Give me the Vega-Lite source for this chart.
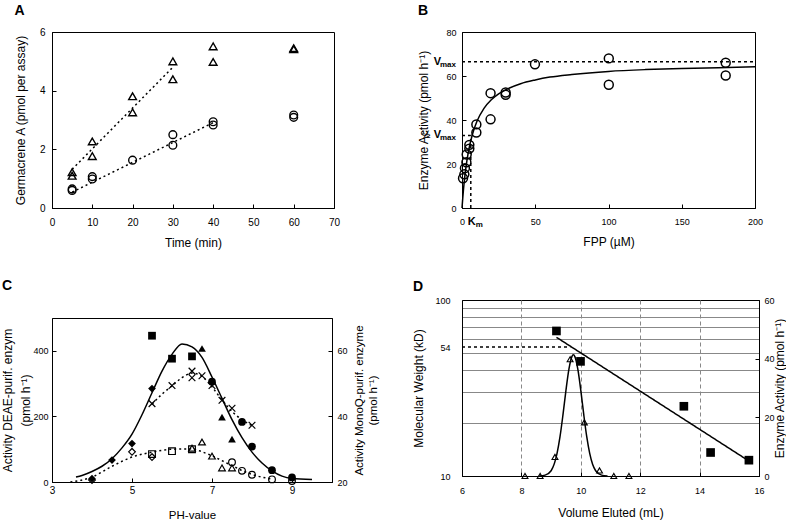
{
  "$schema": "https://vega.github.io/schema/vega-lite/v6.json",
  "padding": {"left": 1, "top": 3, "right": 0, "bottom": 0},
  "background": "white",
  "config": {
    "font": "Liberation Sans",
    "view": {"stroke": "#000", "strokeWidth": 1},
    "axis": {"labelFont": "Liberation Sans", "titleFont": "Liberation Sans", "labelFontSize": 9, "titleFontSize": 12, "titleFontWeight": "normal", "labelColor": "#000", "titleColor": "#000", "domainColor": "#000", "tickColor": "#000", "tickSize": -4, "labelPadding": 8, "grid": false, "labelFlush": false, "labelOverlap": false, "labelBound": false},
    "title": {"anchor": "start", "frame": "bounds", "fontSize": 14, "fontWeight": "bold", "font": "Liberation Sans", "color": "#000"}
  },
  "datasets": {
    "A_pts": [
      {"t": 5, "g": 1.22, "s": "tri"}, {"t": 5, "g": 1.1, "s": "tri"},
      {"t": 10, "g": 2.27, "s": "tri"}, {"t": 10, "g": 1.77, "s": "tri"},
      {"t": 20, "g": 3.81, "s": "tri"}, {"t": 20, "g": 3.26, "s": "tri"},
      {"t": 30, "g": 5.0, "s": "tri"}, {"t": 30, "g": 4.39, "s": "tri"},
      {"t": 40, "g": 5.51, "s": "tri"}, {"t": 40, "g": 4.98, "s": "tri"},
      {"t": 60, "g": 5.45, "s": "tri"}, {"t": 60, "g": 5.41, "s": "tri"},
      {"t": 5, "g": 0.65, "s": "cir"}, {"t": 5, "g": 0.6, "s": "cir"},
      {"t": 10, "g": 1.07, "s": "cir"}, {"t": 10, "g": 0.99, "s": "cir"},
      {"t": 20, "g": 1.63, "s": "cir"},
      {"t": 30, "g": 2.5, "s": "cir"}, {"t": 30, "g": 2.14, "s": "cir"},
      {"t": 40, "g": 2.94, "s": "cir"}, {"t": 40, "g": 2.83, "s": "cir"},
      {"t": 60, "g": 3.17, "s": "cir"}, {"t": 60, "g": 3.09, "s": "cir"}
    ],
    "A_fit": [
      {"t": 5, "g": 1.32, "s": "tri"}, {"t": 30, "g": 4.8, "s": "tri"},
      {"t": 5, "g": 0.54, "s": "cir"}, {"t": 40, "g": 2.91, "s": "cir"}
    ],
    "B_pts": [
      {"f": 0.7, "v": 13.5}, {"f": 1.6, "v": 15.3}, {"f": 2, "v": 18.1}, {"f": 3, "v": 20.8}, {"f": 3.2, "v": 24.3},
      {"f": 5, "v": 28.7}, {"f": 5, "v": 27}, {"f": 9.8, "v": 38}, {"f": 9.8, "v": 34.3},
      {"f": 19.5, "v": 52.2}, {"f": 19.5, "v": 40.3}, {"f": 29.8, "v": 52.5}, {"f": 29.8, "v": 51.5},
      {"f": 49.8, "v": 65.3}, {"f": 100.2, "v": 68}, {"f": 100.2, "v": 56}, {"f": 180, "v": 66}, {"f": 180, "v": 60.2}
    ],
    "B_curve": [
      {"f": 0, "v": 0}, {"f": 0.5, "v": 4.4}, {"f": 1, "v": 8.3}, {"f": 2, "v": 14.8}, {"f": 3, "v": 19.9}, {"f": 4, "v": 24.1},
      {"f": 5, "v": 27.7}, {"f": 7, "v": 33.2}, {"f": 10, "v": 39.1}, {"f": 15, "v": 45.3}, {"f": 20, "v": 49.2}, {"f": 25, "v": 51.9},
      {"f": 30, "v": 53.8}, {"f": 40, "v": 56.5}, {"f": 50, "v": 58.2}, {"f": 60, "v": 59.5}, {"f": 75, "v": 60.7}, {"f": 100, "v": 62.1},
      {"f": 125, "v": 62.9}, {"f": 150, "v": 63.4}, {"f": 175, "v": 63.8}, {"f": 200, "v": 64.2}
    ],
    "B_dash": [
      {"seg": "vmax", "f": 0, "v": 66.5}, {"seg": "vmax", "f": 200, "v": 66.5},
      {"seg": "km", "f": 6, "v": 0}, {"seg": "km", "f": 6, "v": 33},
      {"seg": "half", "f": 0, "v": 33}, {"seg": "half", "f": 6, "v": 33}
    ],
    "B_V": [{"f": 0, "v": 66.5, "t": "V"}, {"f": 0, "v": 33, "t": "½ V"}],
    "B_max": [{"f": 0, "v": 66.5, "t": "max"}, {"f": 0, "v": 33, "t": "max"}],
    "B_K": [{"f": 6, "v": 0, "t": "K"}],
    "B_m": [{"f": 6, "v": 0, "t": "m"}],
    "C_solid": [
      {"ph": 3.6, "a": 15}, {"ph": 3.75, "a": 20}, {"ph": 4, "a": 32}, {"ph": 4.25, "a": 48}, {"ph": 4.5, "a": 71},
      {"ph": 4.75, "a": 104}, {"ph": 5, "a": 146}, {"ph": 5.25, "a": 205}, {"ph": 5.5, "a": 272}, {"ph": 5.75, "a": 338},
      {"ph": 6, "a": 389}, {"ph": 6.25, "a": 421}, {"ph": 6.5, "a": 412}, {"ph": 6.75, "a": 380}, {"ph": 7, "a": 320},
      {"ph": 7.25, "a": 255}, {"ph": 7.5, "a": 190}, {"ph": 7.75, "a": 135}, {"ph": 8, "a": 91}, {"ph": 8.25, "a": 58},
      {"ph": 8.5, "a": 34}, {"ph": 8.75, "a": 18}, {"ph": 9, "a": 11}, {"ph": 9.5, "a": 8}
    ],
    "C_fill": [
      {"ph": 5.5, "a": 446, "s": "sq"}, {"ph": 6, "a": 376, "s": "sq"}, {"ph": 6.5, "a": 383, "s": "sq"},
      {"ph": 6.75, "a": 407, "s": "tri"}, {"ph": 7.25, "a": 198, "s": "tri"}, {"ph": 7.5, "a": 131, "s": "tri"},
      {"ph": 7, "a": 306, "s": "cir"}, {"ph": 7.75, "a": 183, "s": "cir"}, {"ph": 8, "a": 108, "s": "cir"}, {"ph": 8.5, "a": 36, "s": "cir"}, {"ph": 9, "a": 14, "s": "cir"},
      {"ph": 4, "a": 10, "s": "dia"}, {"ph": 4.5, "a": 67, "s": "dia"}, {"ph": 5, "a": 117, "s": "dia"}, {"ph": 5.5, "a": 285, "s": "dia"}
    ],
    "C_dot": [
      {"c": "up", "ph": 5.5, "a": 43.7}, {"c": "up", "ph": 5.75, "a": 46.8}, {"c": "up", "ph": 6, "a": 49.3}, {"c": "up", "ph": 6.25, "a": 51.8},
      {"c": "up", "ph": 6.5, "a": 53.2}, {"c": "up", "ph": 6.75, "a": 52.2}, {"c": "up", "ph": 7, "a": 49}, {"c": "up", "ph": 7.25, "a": 45},
      {"c": "up", "ph": 7.5, "a": 41.5}, {"c": "up", "ph": 7.75, "a": 39}, {"c": "up", "ph": 8, "a": 37.2},
      {"c": "lo", "ph": 3.46, "a": 20}, {"c": "lo", "ph": 4, "a": 21.5}, {"c": "lo", "ph": 4.5, "a": 24.8}, {"c": "lo", "ph": 5, "a": 27.6},
      {"c": "lo", "ph": 5.5, "a": 29.1}, {"c": "lo", "ph": 6, "a": 30}, {"c": "lo", "ph": 6.5, "a": 30.1}, {"c": "lo", "ph": 6.75, "a": 29.2},
      {"c": "lo", "ph": 7, "a": 28}, {"c": "lo", "ph": 7.25, "a": 26.5}, {"c": "lo", "ph": 7.5, "a": 25}, {"c": "lo", "ph": 7.75, "a": 23.5},
      {"c": "lo", "ph": 8, "a": 22.3}, {"c": "lo", "ph": 8.5, "a": 20.9}
    ],
    "C_open": [
      {"ph": 5.5, "a": 43.9, "s": "x"}, {"ph": 6, "a": 49.4, "s": "x"}, {"ph": 6.5, "a": 53.8, "s": "x"}, {"ph": 6.5, "a": 51.8, "s": "x"},
      {"ph": 6.75, "a": 52.4, "s": "x"}, {"ph": 7, "a": 49.4, "s": "x"}, {"ph": 7.25, "a": 44.9, "s": "x"}, {"ph": 7.5, "a": 42.5, "s": "x"}, {"ph": 8, "a": 37.3, "s": "x"},
      {"ph": 4, "a": 20.6, "s": "dia"}, {"ph": 5, "a": 29.2, "s": "dia"}, {"ph": 5.5, "a": 27.6, "s": "dia"},
      {"ph": 5.5, "a": 28.5, "s": "sq"}, {"ph": 6, "a": 29.4, "s": "sq"}, {"ph": 6.5, "a": 30.0, "s": "sq"},
      {"ph": 6.5, "a": 30.3, "s": "tri"}, {"ph": 6.75, "a": 32.2, "s": "tri"}, {"ph": 7, "a": 27.9, "s": "tri"}, {"ph": 7.25, "a": 24.3, "s": "tri"}, {"ph": 7.5, "a": 24.3, "s": "tri"},
      {"ph": 7.5, "a": 26, "s": "cir"}, {"ph": 7.75, "a": 23.4, "s": "cir"}, {"ph": 8, "a": 22.2, "s": "cir"}, {"ph": 8.5, "a": 20.8, "s": "cir"}, {"ph": 9, "a": 20.3, "s": "cir"}
    ],
    "D_sq": [
      {"vol": 9.18, "mw": 66.7}, {"vol": 9.99, "mw": 44.8}, {"vol": 13.47, "mw": 24.9}, {"vol": 14.37, "mw": 13.6}, {"vol": 15.66, "mw": 12.3}
    ],
    "D_lines": [
      {"l": "fit", "vol": 9.18, "mw": 61.4}, {"l": "fit", "vol": 15.66, "mw": 12.17},
      {"l": "mw54", "vol": 6, "mw": 54}, {"l": "mw54", "vol": 9.65, "mw": 54}
    ],
    "D_tri": [
      {"vol": 8.12, "act": 0}, {"vol": 8.63, "act": 0}, {"vol": 9.13, "act": 6.5}, {"vol": 9.64, "act": 39.8},
      {"vol": 10.12, "act": 18.3}, {"vol": 10.63, "act": 1.9}, {"vol": 11.11, "act": 0}, {"vol": 11.62, "act": 0}
    ],
    "D_curve": [
      {"vol": 8.6, "act": 0}, {"vol": 8.8, "act": 0.3}, {"vol": 9.0, "act": 1.8}, {"vol": 9.2, "act": 7.7}, {"vol": 9.3, "act": 13.4},
      {"vol": 9.4, "act": 20.9}, {"vol": 9.5, "act": 29.2}, {"vol": 9.6, "act": 36.4}, {"vol": 9.7, "act": 40.7}, {"vol": 9.75, "act": 41.3},
      {"vol": 9.8, "act": 40.7}, {"vol": 9.9, "act": 36.4}, {"vol": 10.0, "act": 29.2}, {"vol": 10.1, "act": 20.9}, {"vol": 10.2, "act": 13.4},
      {"vol": 10.3, "act": 7.7}, {"vol": 10.4, "act": 3.9}, {"vol": 10.5, "act": 1.8}, {"vol": 10.7, "act": 0.3}, {"vol": 10.9, "act": 0}
    ]
  },
  "spacing": 32,
  "hconcat": [
    {
      "spacing": 29,
      "vconcat": [
        {
          "width": 282, "height": 176,
          "title": {"text": "A", "offset": 9},
          "layer": [
            {
              "data": {"name": "A_fit"},
              "mark": {"type": "line", "strokeDash": [2, 3], "strokeWidth": 1.5, "color": "#000"},
              "encoding": {
                "x": {"field": "t", "type": "quantitative", "scale": {"domain": [0, 70], "nice": false}, "axis": {"title": "Time (min)", "values": [0, 10, 20, 30, 40, 50, 60, 70], "labelFontSize": 10, "labelPadding": 13, "titlePadding": 10}},
                "y": {"field": "g", "type": "quantitative", "scale": {"domain": [0, 6], "nice": false}, "axis": {"title": "Germacrene A (pmol per assay)", "values": [0, 1, 2, 3, 4, 5, 6], "labelExpr": "datum.value % 2 == 0 ? datum.label : ''", "labelFontSize": 10, "labelPadding": 11, "titlePadding": 12}},
                "detail": {"field": "s"}
              }
            },
            {
              "data": {"name": "A_pts"},
              "mark": {"type": "point", "filled": false, "color": "#000", "strokeWidth": 1.4, "size": 60, "opacity": 1},
              "encoding": {
                "x": {"field": "t", "type": "quantitative"},
                "y": {"field": "g", "type": "quantitative"},
                "shape": {"field": "s", "type": "nominal", "scale": {"domain": ["tri", "cir", "sq", "dia", "x"], "range": ["triangle-up", "circle", "square", "diamond", "M-1,-1L1,1M1,-1L-1,1"]}, "legend": null}
              }
            }
          ]
        },
        {
          "width": 280, "height": 164,
          "title": {"text": "C", "offset": 25},
          "layer": [
            {
              "layer": [
                {
                  "data": {"name": "C_solid"},
                  "mark": {"type": "line", "color": "#000", "strokeWidth": 1.5, "interpolate": "monotone"},
                  "encoding": {
                    "x": {"field": "ph", "type": "quantitative", "scale": {"domain": [3, 10], "nice": false}, "axis": {"title": "PH-value", "titleFontSize": 11.5, "values": [3, 4, 5, 6, 7, 8, 9, 10], "labelFontSize": 10, "labelOverlap": false, "labelFlush": false, "labelPadding": 7, "titlePadding": 14}},
                    "y": {"field": "a", "type": "quantitative", "scale": {"domain": [0, 500], "nice": false}, "axis": {"title": ["Activity DEAE-purif. enzym", "(pmol h⁻¹)"], "titleLineHeight": 18, "values": [0, 100, 200, 300, 400, 500], "labelExpr": "datum.value % 200 == 0 ? datum.label : ''", "labelPadding": 8, "titlePadding": 0}}
                  }
                },
                {
                  "data": {"name": "C_fill"},
                  "mark": {"type": "point", "filled": true, "color": "#000", "size": 60, "opacity": 1},
                  "encoding": {
                    "x": {"field": "ph", "type": "quantitative"},
                    "y": {"field": "a", "type": "quantitative"},
                    "shape": {"field": "s", "type": "nominal", "scale": {"domain": ["tri", "cir", "sq", "dia", "x"], "range": ["triangle-up", "circle", "square", "diamond", "M-1,-1L1,1M1,-1L-1,1"]}, "legend": null}
                  }
                }
              ]
            },
            {
              "layer": [
                {
                  "data": {"name": "C_dot"},
                  "mark": {"type": "line", "color": "#000", "strokeWidth": 1.5, "strokeDash": [2, 3], "interpolate": "monotone"},
                  "encoding": {
                    "x": {"field": "ph", "type": "quantitative"},
                    "y": {"field": "a", "type": "quantitative", "scale": {"domain": [20, 70], "nice": false}, "axis": {"orient": "right", "title": ["Activity MonoQ-purif. enzyme", "(pmol h⁻¹)"], "titleFontSize": 11.5, "titleAngle": 270, "titleLineHeight": 14, "values": [20, 30, 40, 50, 60, 70], "labelExpr": "datum.value % 20 == 0 ? datum.label : ''", "labelPadding": 9, "titlePadding": 3}},
                    "detail": {"field": "c"}
                  }
                },
                {
                  "data": {"name": "C_open"},
                  "mark": {"type": "point", "filled": false, "color": "#000", "strokeWidth": 1.2, "size": 45, "opacity": 1},
                  "encoding": {
                    "x": {"field": "ph", "type": "quantitative"},
                    "y": {"field": "a", "type": "quantitative"},
                    "shape": {"field": "s", "type": "nominal", "scale": {"domain": ["tri", "cir", "sq", "dia", "x"], "range": ["triangle-up", "circle", "square", "diamond", "M-1,-1L1,1M1,-1L-1,1"]}, "legend": null}
                  }
                }
              ]
            }
          ],
          "resolve": {"scale": {"y": "independent"}}
        }
      ]
    },
    {
      "spacing": 31,
      "vconcat": [
        {
          "width": 293, "height": 176,
          "title": {"text": "B", "offset": 10},
          "layer": [
            {
              "data": {"name": "B_dash"},
              "mark": {"type": "line", "strokeDash": [3, 3], "strokeWidth": 1.5, "color": "#000"},
              "encoding": {
                "x": {"field": "f", "type": "quantitative", "scale": {"domain": [0, 200], "nice": false}, "axis": {"title": "FPP (µM)", "values": [0, 25, 50, 75, 100, 125, 150, 175, 200], "labelExpr": "datum.value % 50 == 0 ? datum.label : ''", "labelPadding": 13, "titlePadding": 10}},
                "y": {"field": "v", "type": "quantitative", "scale": {"domain": [0, 80], "nice": false}, "axis": {"title": "Enzyme Activity (pmol h⁻¹)", "values": [0, 10, 20, 30, 40, 50, 60, 70, 80], "labelExpr": "datum.value % 20 == 0 ? datum.label : ''", "labelPadding": 10, "titlePadding": 15}},
                "detail": {"field": "seg"}
              }
            },
            {
              "data": {"name": "B_curve"},
              "mark": {"type": "line", "strokeWidth": 1.5, "color": "#000", "interpolate": "monotone"},
              "encoding": {"x": {"field": "f", "type": "quantitative"}, "y": {"field": "v", "type": "quantitative"}}
            },
            {
              "data": {"name": "B_pts"},
              "mark": {"type": "point", "shape": "circle", "filled": false, "color": "#000", "strokeWidth": 1.5, "size": 80, "opacity": 1},
              "encoding": {"x": {"field": "f", "type": "quantitative"}, "y": {"field": "v", "type": "quantitative"}}
            },
            {
              "data": {"name": "B_V"},
              "mark": {"type": "text", "align": "right", "baseline": "middle", "dx": -21, "fontSize": 11, "fontWeight": "bold", "color": "#000"},
              "encoding": {"x": {"field": "f", "type": "quantitative"}, "y": {"field": "v", "type": "quantitative"}, "text": {"field": "t"}}
            },
            {
              "data": {"name": "B_max"},
              "mark": {"type": "text", "align": "right", "baseline": "middle", "dx": -6, "dy": 3, "fontSize": 8, "fontWeight": "bold", "color": "#000"},
              "encoding": {"x": {"field": "f", "type": "quantitative"}, "y": {"field": "v", "type": "quantitative"}, "text": {"field": "t"}}
            },
            {
              "data": {"name": "B_K"},
              "mark": {"type": "text", "align": "left", "baseline": "top", "dx": -3, "dy": 8, "fontSize": 11, "fontWeight": "bold", "color": "#000"},
              "encoding": {"x": {"field": "f", "type": "quantitative"}, "y": {"field": "v", "type": "quantitative"}, "text": {"field": "t"}}
            },
            {
              "data": {"name": "B_m"},
              "mark": {"type": "text", "align": "left", "baseline": "top", "dx": 5, "dy": 13, "fontSize": 8, "fontWeight": "bold", "color": "#000"},
              "encoding": {"x": {"field": "f", "type": "quantitative"}, "y": {"field": "v", "type": "quantitative"}, "text": {"field": "t"}}
            }
          ]
        },
        {
          "width": 297, "height": 176,
          "title": {"text": "D", "offset": 2},
          "layer": [
            {
              "layer": [
                {
                  "data": {"name": "D_lines"},
                  "mark": {"type": "line", "color": "#000", "strokeWidth": 1.5},
                  "encoding": {
                    "x": {"field": "vol", "type": "quantitative", "scale": {"domain": [6, 16], "nice": false}, "axis": {"title": "Volume Eluted  (mL)", "values": [6, 8, 10, 12, 14, 16], "labelPadding": 14, "titlePadding": 12, "grid": true, "gridDash": [4, 3], "gridColor": {"condition": {"test": "datum.value == 6 || datum.value == 16", "value": "transparent"}, "value": "#888"}}},
                    "y": {"field": "mw", "type": "quantitative", "scale": {"type": "log", "domain": [10, 100], "nice": false}, "axis": {"title": "Molecular Weight (kD)", "values": [10, 20, 30, 40, 50, 54, 60, 70, 80, 90, 100], "format": "d", "labelExpr": "(datum.value == 10 || datum.value == 54 || datum.value == 100) ? datum.label : ''", "ticks": false, "labelPadding": 12, "titlePadding": 9, "grid": true, "gridColor": {"condition": {"test": "datum.value == 10 || datum.value == 54 || datum.value == 100", "value": "transparent"}, "value": "#888"}}},
                    "strokeDash": {"field": "l", "type": "nominal", "scale": {"domain": ["fit", "mw54"], "range": [[1, 0], [3, 3]]}, "legend": null}
                  }
                },
                {
                  "data": {"name": "D_sq"},
                  "mark": {"type": "point", "shape": "square", "filled": true, "color": "#000", "size": 75, "opacity": 1},
                  "encoding": {"x": {"field": "vol", "type": "quantitative"}, "y": {"field": "mw", "type": "quantitative"}}
                }
              ]
            },
            {
              "layer": [
                {
                  "data": {"name": "D_curve"},
                  "mark": {"type": "line", "color": "#000", "strokeWidth": 1.5, "interpolate": "monotone"},
                  "encoding": {
                    "x": {"field": "vol", "type": "quantitative"},
                    "y": {"field": "act", "type": "quantitative", "scale": {"domain": [0, 60], "nice": false}, "axis": {"orient": "right", "title": "Enzyme Activity (pmol h⁻¹)", "titleAngle": 270, "values": [0, 10, 20, 30, 40, 50, 60], "labelExpr": "datum.value % 20 == 0 ? datum.label : ''", "labelPadding": 9, "titlePadding": 12}}
                  }
                },
                {
                  "data": {"name": "D_tri"},
                  "mark": {"type": "point", "shape": "triangle-up", "filled": false, "color": "#000", "strokeWidth": 1.1, "size": 35, "opacity": 1},
                  "encoding": {"x": {"field": "vol", "type": "quantitative"}, "y": {"field": "act", "type": "quantitative"}}
                }
              ]
            }
          ],
          "resolve": {"scale": {"y": "independent"}}
        }
      ]
    }
  ]
}
